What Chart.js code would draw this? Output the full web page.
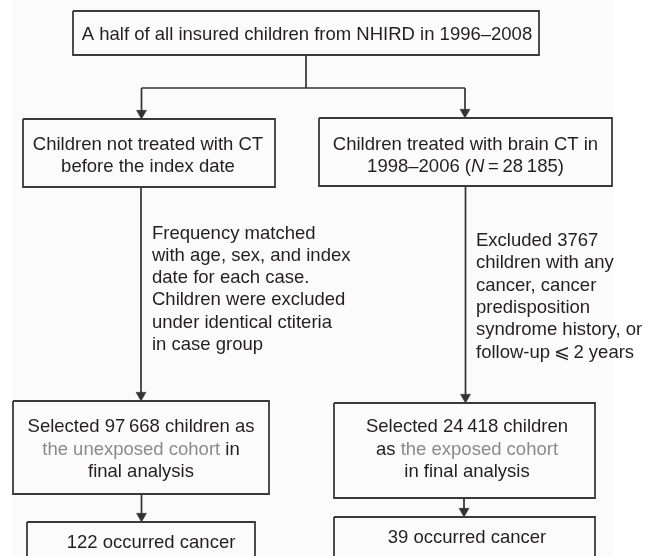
<!DOCTYPE html>
<html>
<head>
<meta charset="utf-8">
<script src="https://cdn.jsdelivr.net/npm/chart.js@4"></script>
<style>
html,body{margin:0;padding:0;background:#fff;}
canvas{display:block;}
</style>
</head>
<body>
<canvas id="c" width="655" height="556"></canvas>
<script>
const studyYears = ['1996–2008', '1998–2006'];
const ctChildren = [28185];
const excludedChildren = [3767];
const cohortSizes = [97668, 24418];      // unexposed, exposed
const cancerCases = [122, 39];           // unexposed, exposed
const followUpYears = [2];

// ---- helpers ----
const fmt = n => n >= 10000 ? String(n).replace(/\B(?=(\d{3})+(?!\d))/g, '\u2009') : String(n);
const GRAY = '#8a8a8a', INK = '#231f20', LINE = '#333333';
const FONT = '"Liberation Sans", Arial, Helvetica, sans-serif';
const FS = 18.5, LH = 22.3;

// ---- layout (scale units == pixels) ----
const boxes = [
  [73, 11, 539, 55],
  [23, 119, 275, 187],
  [319, 118, 612, 186],
  [13, 401, 269, 494],
  [334, 403, 595, 498],
  [27, 522, 255, 562],
  [334, 517, 595, 562]
];
const connectors = [
  [[306, 55], [306, 88]],
  [[141.5, 88], [465, 88]],
  [[141.5, 88], [141.5, 112]],
  [[465, 88], [465, 111]],
  [[141, 187], [141, 394]],
  [[465.5, 186], [465.5, 396]],
  [[141.5, 494], [141.5, 515]],
  [[464, 498], [464, 510]]
];
const arrowTips = [[141.5, 119], [465, 118], [141, 401], [465.5, 403], [141.5, 522], [464, 517]];
const ARW = 5.8;

const texts = [
  {x: 307, y: 40, align: 'center', lines: [[{t: 'A half of all insured children from NHIRD in ' + studyYears[0]}]]},
  {x: 148, y: 150, align: 'center', lines: [[{t: 'Children not treated with CT'}], [{t: 'before the index date'}]]},
  {x: 465.5, y: 150, align: 'center', lines: [
    [{t: 'Children treated with brain CT in'}],
    [{t: studyYears[1] + ' ('}, {t: 'N', it: true}, {t: '\u2009=\u2009' + fmt(ctChildren[0]) + ')'}]
  ]},
  {x: 152, y: 238.5, align: 'left', lines: [
    [{t: 'Frequency matched'}], [{t: 'with age, sex, and index'}], [{t: 'date for each case.'}],
    [{t: 'Children were excluded'}], [{t: 'under identical ctiteria'}], [{t: 'in case group'}]
  ]},
  {x: 476, y: 246, align: 'left', lines: [
    [{t: 'Excluded ' + fmt(excludedChildren[0])}], [{t: 'children with any'}], [{t: 'cancer, cancer'}],
    [{t: 'predisposition'}], [{t: 'syndrome history, or'}], [{t: 'follow-up\u2009\u2A7D\u2009' + followUpYears[0] + ' years'}]
  ]},
  {x: 141, y: 432.3, align: 'center', lines: [
    [{t: 'Selected ' + fmt(cohortSizes[0]) + ' children as'}],
    [{t: 'the unexposed cohort', c: GRAY}, {t: ' in'}],
    [{t: 'final analysis'}]
  ]},
  {x: 467, y: 432.3, align: 'center', lines: [
    [{t: 'Selected ' + fmt(cohortSizes[1]) + ' children'}],
    [{t: 'as '}, {t: 'the exposed cohort', c: GRAY}],
    [{t: 'in final analysis'}]
  ]},
  {x: 151, y: 547.7, align: 'center', lines: [[{t: cancerCases[0] + ' occurred cancer'}]]},
  {x: 467, y: 543.3, align: 'center', lines: [[{t: cancerCases[1] + ' occurred cancer'}]]}
];

// ---- datasets ----
const datasets = [];
boxes.forEach(([x0, y0, x1, y1]) => {
  datasets.push({
    data: [{x: x0, y: y0}, {x: x1, y: y0}, {x: x1, y: y1}, {x: x0, y: y1}, {x: x0, y: y0}],
    showLine: true, borderColor: '#3a3a3a', borderWidth: 1.8, pointRadius: 0,
    borderJoinStyle: 'miter', fill: false, tension: 0, clip: false
  });
});
connectors.forEach(seg => {
  datasets.push({
    data: seg.map(([x, y]) => ({x, y})),
    showLine: true, borderColor: LINE, borderWidth: 1.7, pointRadius: 0, fill: false, clip: false
  });
});
datasets.push({
  data: arrowTips.map(([x, y]) => ({x, y: y - ARW})),
  showLine: false, pointStyle: 'triangle', rotation: 180, pointRadius: ARW,
  backgroundColor: LINE, borderColor: LINE, borderWidth: 0.5, clip: false
});

const bgPlugin = {
  id: 'bg',
  beforeDraw(chart) {
    const {ctx, scales: {x, y}} = chart;
    ctx.save();
    ctx.fillStyle = '#fbfbfb';
    const l = x.getPixelForValue(12), r = x.getPixelForValue(613);
    ctx.fillRect(l, y.getPixelForValue(0), r - l, y.getPixelForValue(556) - y.getPixelForValue(0));
    ctx.restore();
  }
};

const textPlugin = {
  id: 'flowText',
  afterDatasetsDraw(chart) {
    const {ctx, scales: {x, y}} = chart;
    ctx.save();
    ctx.textBaseline = 'alphabetic';
    ctx.textAlign = 'left';
    const fontOf = s => (s.it ? 'italic ' : '') + FS + 'px ' + FONT;
    texts.forEach(block => {
      block.lines.forEach((segs, i) => {
        const by = y.getPixelForValue(block.y + i * LH);
        let w = 0;
        segs.forEach(s => { ctx.font = fontOf(s); w += ctx.measureText(s.t).width; });
        let cx = x.getPixelForValue(block.x);
        if (block.align === 'center') cx -= w / 2;
        segs.forEach(s => {
          ctx.font = fontOf(s);
          ctx.fillStyle = s.c || INK;
          ctx.fillText(s.t, cx, by);
          cx += ctx.measureText(s.t).width;
        });
      });
    });
    ctx.restore();
  }
};

new Chart(document.getElementById('c'), {
  type: 'scatter',
  data: {datasets},
  options: {
    responsive: false,
    animation: false,
    devicePixelRatio: 1,
    layout: {padding: 0, autoPadding: false},
    plugins: {legend: {display: false}, tooltip: {enabled: false}},
    events: [],
    scales: {
      x: {type: 'linear', min: 0, max: 655, display: false},
      y: {type: 'linear', min: 0, max: 556, reverse: true, display: false}
    }
  },
  plugins: [bgPlugin, textPlugin]
});
</script>
</body>
</html>
